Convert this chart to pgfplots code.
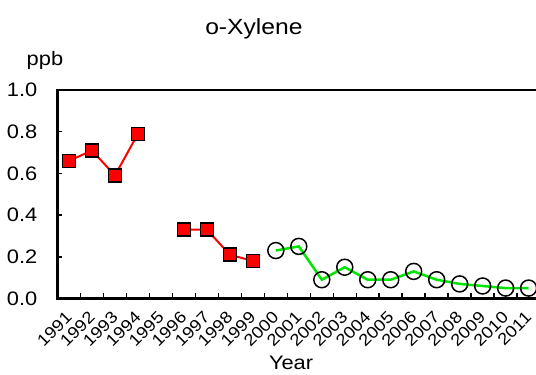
\documentclass[border=0pt]{standalone}
\usepackage{fontspec}
\setmainfont{Liberation Sans}[FakeStretch=1.12]
\usepackage{pgfplots}
\usepackage{pgfplotstable}
\pgfplotsset{compat=1.18}
\definecolor{seriesred}{RGB}{255,0,0}
\definecolor{seriesgreen}{RGB}{0,230,0}

% o-Xylene annual means (ppb); 1995 has no value
\pgfplotstableread{
year  ppb
1991  0.66
1992  0.71
1993  0.59
1994  0.79
1995  nan
1996  0.33
1997  0.33
1998  0.21
1999  0.18
}\earlydata
\pgfplotstableread{
year  ppb
2000  0.23
2001  0.25
2002  0.09
2003  0.15
2004  0.09
2005  0.09
2006  0.13
2007  0.09
2008  0.07
2009  0.06
2010  0.05
2011  0.05
}\latedata

\begin{document}
\begin{tikzpicture}
\begin{axis}[
  at={(57.5bp,76.5bp)}, anchor=south west,
  scale only axis, width=482.6bp, height=208.5bp,
  xmin=1990.5, xmax=2011.5, ymin=0, ymax=1,
  clip=false,
  font=\fontsize{19.5bp}{22bp}\selectfont,
  /pgf/number format/assume math mode=true,
  axis line style={line width=2bp, black},
  tick pos=left, tick align=inside,
  tick style={line width=1.5bp, black},
  major tick length=5bp, minor tick length=5bp,
  xtick={1991,...,2011},
  minor xtick={1991.5,1992.5,...,2010.5},
  major x tick style={draw=none},
  xticklabel style={/pgf/number format/set thousands separator={},
    font=\fontsize{16.5bp}{18bp}\selectfont,
    xshift=0bp, yshift=-16bp, rotate=45, anchor=east, inner sep=0pt},
  ytick={0,0.2,...,1.0},
  yticklabel style={/pgf/number format/fixed, /pgf/number format/fixed zerofill,
    /pgf/number format/precision=1, anchor=east, inner sep=0pt, xshift=-20bp},
  title={o-Xylene},
  title style={at={(axis description cs:0.407,1.265)}, anchor=center,
    font=\fontsize{22bp}{25bp}\selectfont},
  ylabel={ppb},
  ylabel style={at={(axis description cs:-0.026,1.144)}, anchor=center, rotate=-90},
  xlabel={Year},
  xlabel style={at={(axis description cs:0.484,-0.309)}, anchor=center},
  unbounded coords=jump,
]
\addplot[color=seriesred, line width=2bp, mark=square*, mark size=6.5bp,
  mark options={fill=seriesred, draw=black, line width=1.5bp}]
  table[x=year, y=ppb] {\earlydata};
\addplot[color=seriesgreen, line width=2.5bp, mark=o, mark size=8bp,
  mark options={draw=black, fill=none, line width=1.5bp}]
  table[x=year, y=ppb] {\latedata};
\end{axis}
\pgfresetboundingbox
\useasboundingbox (0,0) rectangle (536bp,375bp);
\end{tikzpicture}
\end{document}
